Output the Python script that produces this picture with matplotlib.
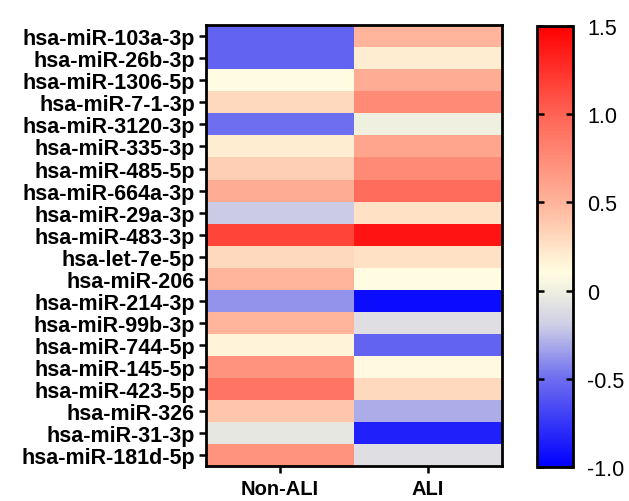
import matplotlib
matplotlib.use("Agg")
import matplotlib.pyplot as plt
import numpy as np
from matplotlib.colors import LinearSegmentedColormap, Normalize

plt.rcParams['font.family'] = ['Liberation Sans', 'DejaVu Sans']

mirnas = ['hsa-miR-103a-3p', 'hsa-miR-26b-3p', 'hsa-miR-1306-5p', 'hsa-miR-7-1-3p',
          'hsa-miR-3120-3p', 'hsa-miR-335-3p', 'hsa-miR-485-5p', 'hsa-miR-664a-3p',
          'hsa-miR-29a-3p', 'hsa-miR-483-3p', 'hsa-let-7e-5p', 'hsa-miR-206',
          'hsa-miR-214-3p', 'hsa-miR-99b-3p', 'hsa-miR-744-5p', 'hsa-miR-145-5p',
          'hsa-miR-423-5p', 'hsa-miR-326', 'hsa-miR-31-3p', 'hsa-miR-181d-5p']
groups = ['Non-ALI', 'ALI']

non_ali = [-0.55, -0.55, 0.1, 0.3, -0.5, 0.2, 0.35, 0.55, -0.2, 1.15,
           0.3, 0.5, -0.38, 0.5, 0.15, 0.7, 0.9, 0.4, -0.05, 0.7]
ali = [0.5, 0.2, 0.55, 0.75, 0.0, 0.6, 0.75, 0.95, 0.25, 1.4,
       0.25, 0.1, -0.95, -0.1, -0.55, 0.12, 0.3, -0.3, -0.85, -0.1]

vmin, vmax = -1.0, 1.5
stops = [(-1.0, (0, 0, 255)), (-0.5, (110, 110, 240)), (-0.2, (205, 205, 230)),
         (0.0, (240, 240, 225)), (0.1, (255, 252, 226)), (0.2, (255, 236, 208)),
         (0.5, (255, 180, 155)), (1.0, (255, 100, 85)), (1.5, (255, 0, 0))]
cmap = LinearSegmentedColormap.from_list(
    'bwr_prism', [((v - vmin) / (vmax - vmin), tuple(c / 255 for c in rgb)) for v, rgb in stops])
norm = Normalize(vmin=vmin, vmax=vmax)

data = np.column_stack([non_ali, ali])

fig = plt.figure(figsize=(6.29, 5.02), dpi=100)
ax = fig.add_axes([0.3275, 0.0697, 0.4706, 0.878])
cax = fig.add_axes([0.854, 0.068, 0.057, 0.878])

mesh = ax.pcolormesh(data, cmap=cmap, norm=norm, edgecolors='none')
ax.set_xlim(0, 2)
ax.set_ylim(len(mirnas), 0)
ax.set_yticks(np.arange(len(mirnas)) + 0.5)
ax.set_yticklabels(mirnas, fontsize=15.5, fontweight='bold')
ax.set_xticks(np.arange(len(groups)) + 0.5)
ax.set_xticklabels(groups, fontsize=14.5, fontweight='bold')
ax.tick_params(axis='both', direction='out', length=5, width=1.8, color='black')
ax.tick_params(axis='x', pad=4)
ax.tick_params(axis='y', pad=3)
for s in ax.spines.values():
    s.set_linewidth(2)

cb = fig.colorbar(mesh, cax=cax)
cb.set_ticks([-1.0, -0.5, 0, 0.5, 1.0, 1.5])
cb.set_ticklabels(['-1.0', '-0.5', '0', '0.5', '1.0', '1.5'])
cax.tick_params(axis='y', direction='in', length=5, width=1.8, left=True, right=True,
                labelsize=15.5, pad=10)
cb.outline.set_linewidth(2)

fig.savefig('out.png', dpi=100)
